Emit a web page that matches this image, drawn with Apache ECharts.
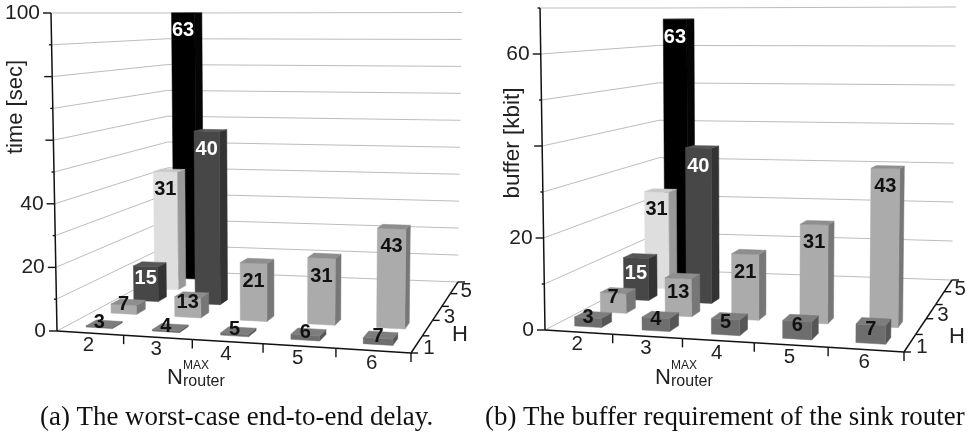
<!DOCTYPE html>
<html><head><meta charset="utf-8">
<style>html,body{margin:0;padding:0;background:#fff}#c{width:968px;height:435px}</style>
<script src="https://cdn.jsdelivr.net/npm/echarts@6/dist/echarts.min.js"></script>
</head><body><div id="c"></div>
<script>
// ---------- data ----------
const routers = [2, 3, 4, 5, 6];
const hops = [1, 2, 3, 4, 5];
const hopTickLabels = [1, 3, 5];
// bars, back rows first
const orderRouter = [2, 2, 3, 2, 3, 4, 5, 6, 2, 3, 4, 5, 6, 2];
const orderHop    = [5, 4, 3, 3, 2, 2, 2, 2, 2, 1, 1, 1, 1, 1];
const barLabels   = [63, 31, 40, 15, 13, 21, 31, 43, 7, 4, 5, 6, 7, 3];
const delayHeights  = [100, 42.5, 59, 12, 6.5, 18.5, 21, 31, 3, 0.5, 0.7, 1.5, 1.8, 0.4];
const bufferHeights = [67, 24, 36.5, 10, 8.5, 14.5, 21.5, 34, 4.5, 2.8, 3.3, 3.7, 3.8, 2];
const delayTicks = [0,10,20,30,40,50,60,70,80,90,100];
const delayMajor = [0,20,40,60,80,100];
const delayTickLabels = [0,20,40,100];
const bufferTicks = [0,10,20,30,40,50,60,70];
const bufferMajor = [0,20,40,60];
const bufferTickLabels = [0,20,60];

// ---------- view (perspective frame of each panel) ----------
const SANS = '"Liberation Sans", Arial, sans-serif';
const HOP_TONES = {
  1:{front:'#6e6e6e',side:'#565656',top:'#7d7d7d'},
  2:{front:'#ababab',side:'#777777',top:'#8e8e8e'},
  3:{front:'#474747',side:'#333333',top:'#565656'},
  4:{front:'#dedede',side:'#999999',top:'#c9c9c9'},
  5:{front:'#000000',side:'#050505',top:'#1c1c1c'}
};
const LABEL_INK = {1:'#111',2:'#111',3:'#fff',4:'#111',5:'#fff'};
function solve(q){ // unit square -> quad homography
  const [[x0,y0],[x1,y1],[x2,y2],[x3,y3]] = q;
  const dx1=x1-x2,dx2=x3-x2,sx=x0-x1+x2-x3,dy1=y1-y2,dy2=y3-y2,sy=y0-y1+y2-y3;
  const d=dx1*dy2-dx2*dy1, g=(sx*dy2-dx2*sy)/d, h=(dx1*sy-sx*dy1)/d;
  const a=x1-x0+g*x1,b=x3-x0+h*x3,c=x0,e=y1-y0+g*y1,f=y3-y0+h*y3,i=y0;
  return (u,v)=>{const w=g*u+h*v+1;return [(a*u+b*v+c)/w,(e*u+f*v+i)/w];};
}
const panels = [
 {grid:{left:60,top:20,width:380,height:300}, yMax:100, bow:0.05,
  floor:solve([[57,331],[411,353],[458,282],[169,271]]),
  tall:[318,350,269.5,258], vanish:[281,12200],
  ticks:delayTicks, major:delayMajor, tickLabels:delayTickLabels, heights:delayHeights},
 {grid:{left:550,top:20,width:380,height:300}, yMax:70, bow:0.07,
  floor:solve([[545,330],[904,352],[952,280],[660,270]]),
  tall:[322,355,273,262], vanish:[753,13780],
  ticks:bufferTicks, major:bufferMajor, tickLabels:bufferTickLabels, heights:bufferHeights}
];
const BAR_U = 0.2, BAR_V = 0.2, BAR_V_CENTER = 0.55;

function mapper(p, api){
  const g=p.grid, [s0,s1,s2,s3]=p.tall.map(s=>1/s);
  return (n,val,depth)=>{ // n, val through the axes; depth in hop slots
    const c=api.coord([n,val]);
    const u0=(c[0]-g.left)/g.width, w=(g.top+g.height-c[1])/g.height, v=depth/hops.length;
    const u=u0+p.bow*u0*(1-u0);
    const a=p.floor(u,v);
    const inv=(s0*(1-u)+s1*u)*(1-v)+(s3*(1-u)+s2*u)*v;
    const rise=w/inv;
    const y=a[1]-rise;
    const x=a[0]-(a[0]-p.vanish[0])*rise/(a[1]-p.vanish[1]);
    return [x,y];
  };
}
function poly(points,fill){return {type:'polygon',shape:{points},style:{fill,stroke:fill,lineWidth:0.5}};}
function line(a,b,color,width){return {type:'line',shape:{x1:a[0],y1:a[1],x2:b[0],y2:b[1]},style:{stroke:color,lineWidth:width}};}
function text(x,y,s,o){return {type:'text',x,y,style:Object.assign({text:String(s),fontFamily:SANS,fontSize:20,fill:'#222',align:'center',verticalAlign:'middle'},o||{})};}

function seriesFor(idx){
  const p=panels[idx], gi=idx;
  const base={type:'custom',xAxisIndex:gi,yAxisIndex:gi,silent:true,clip:false,animation:false};
  const xMin=1.5, xMax=6.5;
  const wall=Object.assign({},base,{z:1,data:p.ticks.map(t=>[t]),renderItem:(ps,api)=>{
    const m=mapper(p,api), t=api.value(0);
    return {type:'polyline',shape:{points:[m(xMin,t,0),m(xMin,t,5),m(xMax,t,5)]},style:{fill:null,stroke:'#bdbdbd',lineWidth:1}};
  }});
  const valAxis=Object.assign({},base,{z:5,data:p.ticks.map(t=>[t]),renderItem:(ps,api)=>{
    const m=mapper(p,api), t=api.value(0), a=m(xMin,t,0), len=p.major.includes(t)?8:2.5;
    const ch=[line(a,[a[0]-len,a[1]],'#111',1.4)];
    if(ps.dataIndex<p.ticks.length-1){ch.push(line(a,m(xMin,p.ticks[ps.dataIndex+1],0),'#111',1.5));}
    if(p.tickLabels.includes(t)) ch.push(text(a[0]-len-3,a[1],t,{align:'right',fontSize:21}));
    return {type:'group',children:ch};
  }});
  const nAxis=Object.assign({},base,{z:5,data:routers.map(r=>[r]),renderItem:(ps,api)=>{
    const m=mapper(p,api), r=api.value(0), e=m(r+0.5,0,0), s=m(r-0.5,0,0), c=m(r,0,0);
    return {type:'group',children:[line(s,e,'#111',1.5),line(e,[e[0],e[1]+9],'#111',1.4),text(c[0]-1.5,c[1]+12.5,r,{fontSize:20.5})]};
  }});
  const hAxis=Object.assign({},base,{z:5,data:hops.map(h=>[h]),renderItem:(ps,api)=>{
    const m=mapper(p,api), h=api.value(0), s=m(xMax,0,h-1), e=m(xMax,0,h), c=m(xMax,0,h-0.5);
    const ch=[line(s,e,'#111',1.5),line(e,[e[0]+7,e[1]],'#111',1.4)];
    if(h===1) ch.push(line(s,[s[0]+7,s[1]],'#111',1.4));
    if(hopTickLabels.includes(h)) ch.push(text(c[0]+12,c[1]+4,h,{fontSize:20.5}));
    return {type:'group',children:ch};
  }});
  const rows=orderRouter.map((r,i)=>[r,p.heights[i],orderHop[i],barLabels[i]]);
  const bars=Object.assign({},base,{z:3,data:rows,renderItem:(ps,api)=>{
    const m=mapper(p,api), n=api.value(0), val=api.value(1), h=api.value(2);
    const d0=h-1+BAR_V_CENTER-BAR_V, d1=h-1+BAR_V_CENTER+BAR_V, l=n-BAR_U, r=n+BAR_U, t=HOP_TONES[h];
    const ch=[
      poly([m(r,0,d0),m(r,0,d1),m(r,val,d1),m(r,val,d0)],t.side),
      poly([m(l,0,d0),m(r,0,d0),m(r,val,d0),m(l,val,d0)],t.front)
    ];
    if(val<p.yMax) ch.push(poly([m(l,val,d0),m(r,val,d0),m(r,val,d1),m(l,val,d1)],t.top));
    return {type:'group',children:ch};
  }});
  const labels=Object.assign({},base,{z:6,data:rows,renderItem:(ps,api)=>{
    const m=mapper(p,api), n=api.value(0), val=api.value(1), h=api.value(2);
    const d0=h-1+BAR_V_CENTER-BAR_V, top=m(n,val,d0), bot=m(n,0,d0);
    const off=Math.max(-5,Math.min(18,0.5*(bot[1]-top[1])-5));
    return text(top[0],top[1]+off,api.value(3),{fontWeight:'bold',fontSize:20,fill:LABEL_INK[h]});
  }});
  return [wall,bars,valAxis,nAxis,hAxis,labels];
}

const nameNodes = (nx,ny)=>[
  {type:'text',x:nx,y:ny,style:{text:'N',font:'22px '+SANS,fill:'#222'}},
  {type:'text',x:nx+16,y:ny-7,style:{text:'MAX',font:'12px '+SANS,fill:'#222'}},
  {type:'text',x:nx+16,y:ny+7,style:{text:'router',font:'16px '+SANS,fill:'#222'}}
];
const CAPTION = '26.9px "Liberation Serif", serif';
const chart=echarts.init(document.getElementById('c'),null,{renderer:'canvas'});
chart.setOption({
  animation:false,
  backgroundColor:'#fff',
  grid:panels.map(p=>Object.assign({containLabel:false},p.grid)),
  xAxis:panels.map((p,i)=>({type:'value',gridIndex:i,min:1.5,max:6.5,show:false})),
  yAxis:panels.map((p,i)=>({type:'value',gridIndex:i,min:0,max:p.yMax,show:false})),
  series:[...seriesFor(0),...seriesFor(1)],
  graphic:[
    {type:'text',x:16,y:107,rotation:Math.PI/2,style:{text:'time [sec]',font:'22px '+SANS,fill:'#222',align:'center',verticalAlign:'middle'}},
    {type:'text',x:513,y:143,rotation:Math.PI/2,style:{text:'buffer [kbit]',font:'22.5px '+SANS,fill:'#222',align:'center',verticalAlign:'middle'}},
    {type:'text',x:460,y:335,style:{text:'H',font:'22px '+SANS,fill:'#222',align:'center',verticalAlign:'middle'}},
    {type:'text',x:957,y:337,style:{text:'H',font:'22px '+SANS,fill:'#222',align:'center',verticalAlign:'middle'}},
    ...nameNodes(167,367),
    ...nameNodes(655,367),
    {type:'text',x:40,y:418,style:{text:'(a) The worst-case end-to-end delay.',font:CAPTION,fill:'#111',verticalAlign:'middle'}},
    {type:'text',x:485,y:418,style:{text:'(b) The buffer requirement of the sink router',font:CAPTION,fill:'#111',verticalAlign:'middle'}}
  ]
});
</script></body></html>
